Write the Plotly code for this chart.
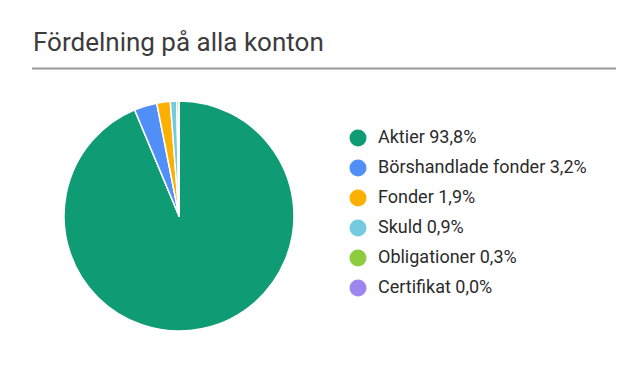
import plotly.graph_objects as go

title = "Fördelning på alla konton"
categories = ["Aktier", "Börshandlade fonder", "Fonder", "Skuld", "Obligationer", "Certifikat"]
values = [93.8, 3.2, 1.9, 0.9, 0.3, 0.01]
shown_pct = ["93,8%", "3,2%", "1,9%", "0,9%", "0,3%", "0,0%"]
colors = ["#0f9b73", "#4f8ff7", "#fdb002", "#74cbe0", "#8dcc3f", "#9d86ee"]

W, H = 616, 340
OFF = 8  # page body margin
font = "Roboto"

fig = go.Figure()

# Pie
cx, cy, r = 179 - OFF, 216 - OFF, 115
fig.add_trace(go.Pie(
    labels=categories, values=values, sort=False, direction="clockwise", rotation=0,
    marker=dict(colors=colors, line=dict(color="white", width=1.5)),
    textinfo="none", hoverinfo="label+percent", showlegend=False,
    domain=dict(x=[(cx - r) / W, (cx + r) / W], y=[1 - (cy + r) / H, 1 - (cy - r) / H]),
))

# Custom legend (circles + labels)
leg_x, leg_y0, leg_dy = 358 - OFF, 138 - OFF, 30
ys = [leg_y0 + i * leg_dy for i in range(len(categories))]
labels = [f"{c} {p}" for c, p in zip(categories, shown_pct)]
fig.add_trace(go.Scatter(
    x=[leg_x] * len(categories), y=ys, mode="markers",
    marker=dict(size=17, color=colors, line=dict(width=0)),
    hoverinfo="skip", showlegend=False,
))
fig.add_trace(go.Scatter(
    x=[leg_x + 20] * len(categories), y=ys, mode="text", text=labels,
    textposition="middle right", textfont=dict(family=font, size=18, color="#2b2b2b"),
    hoverinfo="skip", showlegend=False,
))

fig.update_layout(
    width=W, height=H, margin=dict(l=0, r=0, t=0, b=0),
    paper_bgcolor="white", plot_bgcolor="rgba(0,0,0,0)",
    xaxis=dict(range=[0, W], visible=False, fixedrange=True),
    yaxis=dict(range=[H, 0], visible=False, fixedrange=True),
    annotations=[dict(
        text=title, x=(31 - OFF) / W, y=1 - (42 - OFF) / H, xref="paper", yref="paper",
        xanchor="left", yanchor="middle", showarrow=False,
        font=dict(family=font, size=26, color="#3c3c3c"),
    )],
    shapes=[dict(type="line", xref="paper", yref="paper",
                 x0=(32 - OFF) / W, x1=1.05, y0=1 - (68.5 - OFF) / H, y1=1 - (68.5 - OFF) / H,
                 line=dict(color="#999999", width=2))],
)

fig.write_html("out.html")
